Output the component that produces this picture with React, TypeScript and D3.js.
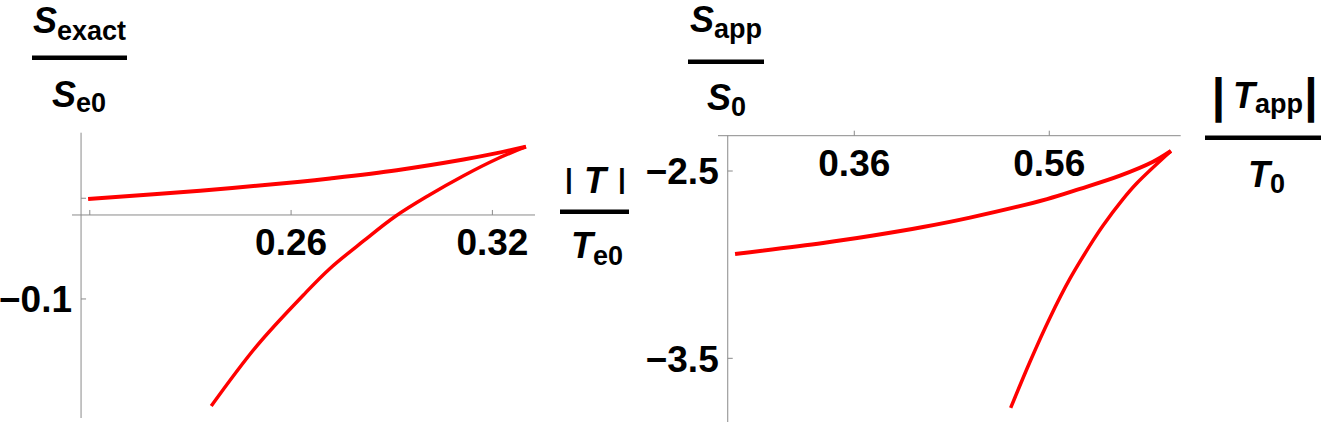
import * as d3 from 'd3';

type Pt = [number, number];

// left panel: S_exact / S_e0 against |T| / T_e0
const leftXTicks = [0.2, 0.26, 0.32];
const leftXTickLabels = ['', '0.26', '0.32'];
const leftYTicks = [0, -0.1];
const leftYTickLabels = ['', '−0.1'];
const leftUpper: Pt[] = [
  [0.1995, -0.0007], [0.2329, 0.0075], [0.2627, 0.0165], [0.2716, 0.0197],
  [0.2915, 0.0279], [0.3114, 0.0385], [0.3213, 0.0448], [0.33, 0.0512],
];
const leftLower: Pt[] = [
  [0.2362, -0.2063], [0.2498, -0.1465], [0.2637, -0.096], [0.2716, -0.0697],
  [0.2816, -0.0424], [0.291, -0.0181], [0.3011, 0.003], [0.3114, 0.0224],
  [0.3213, 0.039], [0.33, 0.0512],
];

// right panel: S_app / S_0 against |T_app| / T_0
const rightXTicks = [0.36, 0.56];
const rightXTickLabels = ['0.36', '0.56'];
const rightYTicks = [-2.5, -3.5];
const rightYTickLabels = ['−2.5', '−3.5'];
const rightUpper: Pt[] = [
  [0.2377, -2.943], [0.328, -2.8844], [0.3793, -2.8444], [0.4305, -2.799],
  [0.4787, -2.7488], [0.5577, -2.65], [0.5915, -2.5956], [0.6326, -2.5251],
  [0.6664, -2.4509], [0.6848, -2.3932],
];
const rightLower: Pt[] = [
  [0.5204, -3.765], [0.5402, -3.518], [0.5607, -3.283], [0.5812, -3.075],
  [0.6048, -2.872], [0.615, -2.792], [0.6356, -2.65], [0.65, -2.5641], [0.6848, -2.3932],
];

const FONT = "'Liberation Sans', Arial, sans-serif";
const AXIS = '#8a8a8a';
const RED = '#ff0000';

type PanelProps = {
  xDomain: [number, number];
  xRange: [number, number];
  yDomain: [number, number];
  yRange: [number, number];
  origin: Pt;
  xTicks: number[];
  xTickLabels: string[];
  yTicks: number[];
  yTickLabels: string[];
  upper: Pt[];
  lower: Pt[];
};

function Panel(p: PanelProps) {
  const x = d3.scaleLinear().domain(p.xDomain).range(p.xRange);
  const y = d3.scaleLinear().domain(p.yDomain).range(p.yRange);
  const ax = x(p.origin[0]);
  const ay = y(p.origin[1]);
  const line = d3
    .line<Pt>()
    .x((d) => x(d[0]))
    .y((d) => y(d[1]))
    .curve(d3.curveCatmullRom.alpha(0.5));

  return (
    <g>
      <line x1={p.xRange[0]} x2={p.xRange[1]} y1={ay} y2={ay} stroke={AXIS} strokeWidth={1} />
      <line x1={ax} x2={ax} y1={p.yRange[0]} y2={p.yRange[1]} stroke={AXIS} strokeWidth={1} />
      {p.xTicks.map((t, i) => (
        <g key={'x' + i}>
          <line x1={x(t)} x2={x(t)} y1={ay} y2={ay - 5} stroke={AXIS} strokeWidth={1} />
          <text
            x={x(t)}
            y={ay + 40.5}
            textAnchor="middle"
            fontFamily={FONT}
            fontWeight="bold"
            fontSize={37}
          >
            {p.xTickLabels[i]}
          </text>
        </g>
      ))}
      {p.yTicks.map((t, i) => (
        <g key={'y' + i}>
          <line x1={ax} x2={ax + 5} y1={y(t)} y2={y(t)} stroke={AXIS} strokeWidth={1} />
          <text
            x={ax - 9}
            y={y(t)}
            dy="0.36em"
            textAnchor="end"
            fontFamily={FONT}
            fontWeight="bold"
            fontSize={37}
          >
            {p.yTickLabels[i]}
          </text>
        </g>
      ))}
      <path d={line(p.upper) ?? ''} fill="none" stroke={RED} strokeWidth={4} />
      <path d={line(p.lower) ?? ''} fill="none" stroke={RED} strokeWidth={3.5} />
    </g>
  );
}

function Sym({ x, y, main, sub, shift = 6 }: { x: number; y: number; main: string; sub?: string; shift?: number }) {
  return (
    <text x={x} y={y} fontFamily={FONT} fontWeight="bold" fontSize={36}>
      <tspan fontStyle="italic">{main}</tspan>
      {sub ? (
        <tspan fontSize={27} dy={shift}>
          {sub}
        </tspan>
      ) : null}
    </text>
  );
}

function Bar({ x, y, size }: { x: number; y: number; size: number }) {
  return (
    <text x={x} y={y} textAnchor="middle" fontFamily={FONT} fontWeight="bold" fontSize={size}>
      |
    </text>
  );
}

export default function App() {
  return (
    <svg
      width={1329}
      height={427}
      viewBox="0 0 1329 427"
      style={{ position: 'absolute', left: 0, top: 0, background: '#fff' }}
    >
      <Panel
        xDomain={[0.1947, 0.3327]}
        xRange={[72, 535]}
        yDomain={[0.0651, -0.2182]}
        yRange={[132.7, 418]}
        origin={[0.1974, -0.0166]}
        xTicks={leftXTicks}
        xTickLabels={leftXTickLabels}
        yTicks={leftYTicks}
        yTickLabels={leftYTickLabels}
        upper={leftUpper}
        lower={leftLower}
      />
      <Panel
        xDomain={[0.2202, 0.6948]}
        xRange={[718, 1180.7]}
        yDomain={[-2.3115, -3.84]}
        yRange={[135.7, 422]}
        origin={[0.2302, -2.3115]}
        xTicks={rightXTicks}
        xTickLabels={rightXTickLabels}
        yTicks={rightYTicks}
        yTickLabels={rightYTickLabels}
        upper={rightUpper}
        lower={rightLower}
      />

      {/* left y label */}
      <Sym x={33} y={33} main="S" sub="exact" shift={7} />
      <line x1={32} x2={127} y1={57.7} y2={57.7} stroke="#000" strokeWidth={4.5} />
      <Sym x={52} y={107} main="S" sub="e0" shift={5} />

      {/* left x label */}
      <Bar x={569} y={188} size={28} />
      <Sym x={584} y={193} main="T" />
      <Bar x={622} y={188} size={28} />
      <line x1={560} x2={629} y1={211.7} y2={211.7} stroke="#000" strokeWidth={4.5} />
      <Sym x={571} y={258} main="T" sub="e0" shift={7} />

      {/* right y label */}
      <Sym x={690} y={32} main="S" sub="app" shift={6} />
      <line x1={688} x2={764} y1={61.7} y2={61.7} stroke="#000" strokeWidth={4.5} />
      <Sym x={707} y={110} main="S" sub="0" shift={6} />

      {/* right x label */}
      <Bar x={1218.5} y={112} size={48} />
      <Sym x={1233} y={108} main="T" sub="app" shift={5} />
      <Bar x={1311} y={112} size={48} />
      <line x1={1205} x2={1321} y1={137.7} y2={137.7} stroke="#000" strokeWidth={4.5} />
      <Sym x={1248} y={187} main="T" sub="0" shift={6} />
    </svg>
  );
}
